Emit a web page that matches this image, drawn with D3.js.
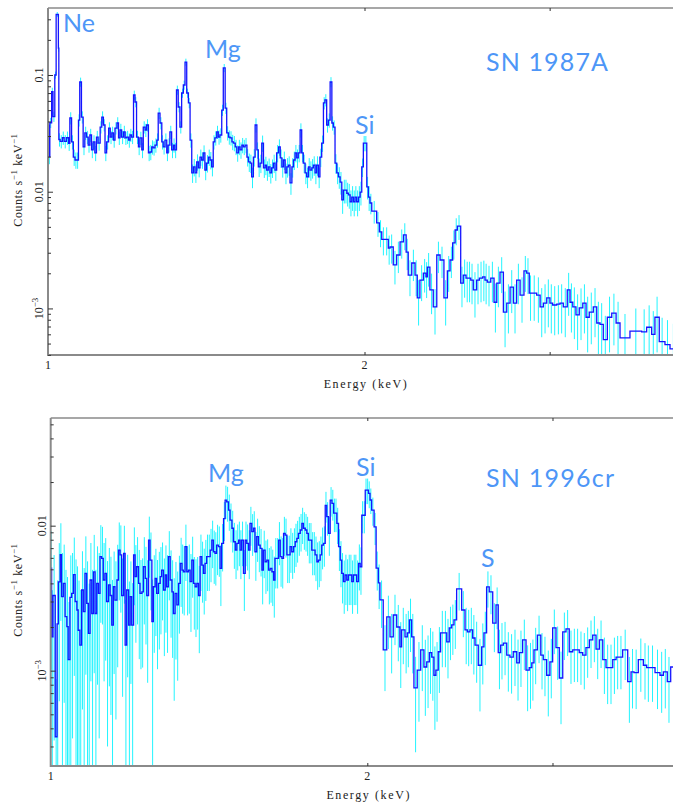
<!DOCTYPE html>
<html>
<head>
<meta charset="utf-8">
<script src="https://cdn.jsdelivr.net/npm/d3@7"></script>
<style>
  body { margin: 0; background: #fff; }
  svg { display: block; }
  .axis-text { font-family: "Liberation Serif", "DejaVu Serif", serif; fill: #222; }
  .line-label { font-family: "Lato", "Open Sans", sans-serif; fill: #4d96f7; font-size: 25px; }
</style>
</head>
<body>
<div id="vis"></div>
<script>
// ---------- SN 1987A : bin lower edges (keV, last value closes the last bin), counts s^-1 keV^-1, relative error
const energy87 = [
  1.000, 1.002, 1.004, 1.008, 1.011, 1.015, 1.018, 1.023, 1.024, 1.027, 1.032, 1.036, 1.041, 1.046,
  1.049, 1.053, 1.057, 1.061, 1.065, 1.069, 1.072, 1.076, 1.080, 1.084,
  1.088, 1.092, 1.096, 1.100, 1.104, 1.108, 1.112, 1.116, 1.121, 1.125,
  1.129, 1.133, 1.137, 1.142, 1.146, 1.150, 1.154, 1.158, 1.163, 1.167,
  1.171, 1.175, 1.180, 1.184, 1.188, 1.193, 1.197, 1.201, 1.206, 1.210,
  1.214, 1.219, 1.223, 1.228, 1.232, 1.237, 1.241, 1.246, 1.250, 1.255,
  1.259, 1.264, 1.269, 1.273, 1.278, 1.283, 1.287, 1.292, 1.297, 1.301,
  1.306, 1.311, 1.316, 1.320, 1.325, 1.330, 1.335, 1.340, 1.345, 1.350,
  1.355, 1.360, 1.365, 1.370, 1.375, 1.380, 1.385, 1.390, 1.395, 1.400,
  1.405, 1.410, 1.415, 1.421, 1.426, 1.431, 1.436, 1.441, 1.447, 1.452,
  1.457, 1.463, 1.468, 1.474, 1.479, 1.485, 1.490, 1.496, 1.501, 1.507,
  1.512, 1.518, 1.523, 1.529, 1.534, 1.540, 1.546, 1.551, 1.557, 1.562,
  1.568, 1.574, 1.580, 1.585, 1.591, 1.597, 1.603, 1.609, 1.614, 1.620,
  1.626, 1.632, 1.638, 1.644, 1.650, 1.657, 1.663, 1.669, 1.675, 1.681,
  1.687, 1.693, 1.699, 1.706, 1.712, 1.718, 1.724, 1.730, 1.737, 1.743,
  1.749, 1.756, 1.762, 1.769, 1.775, 1.782, 1.788, 1.795, 1.801, 1.808,
  1.814, 1.821, 1.828, 1.834, 1.841, 1.848, 1.855, 1.862, 1.868, 1.875,
  1.882, 1.889, 1.896, 1.903, 1.910, 1.917, 1.924, 1.931, 1.938, 1.945,
  1.952, 1.959, 1.966, 1.974, 1.981, 1.988, 1.995, 2.002, 2.010, 2.017,
  2.024, 2.032, 2.054, 2.066, 2.077, 2.092, 2.107, 2.115, 2.130, 2.146,
  2.162, 2.178, 2.191, 2.201, 2.218, 2.234, 2.245, 2.258, 2.275, 2.288,
  2.295, 2.308, 2.325, 2.343, 2.360, 2.380, 2.398, 2.412, 2.426, 2.439,
  2.451, 2.469, 2.483, 2.498, 2.511, 2.524, 2.538, 2.557, 2.572, 2.591,
  2.604, 2.617, 2.637, 2.656, 2.672, 2.691, 2.711, 2.731, 2.751, 2.771,
  2.791, 2.812, 2.836, 2.853, 2.869, 2.885, 2.916, 2.938, 2.959, 2.981,
  3.002, 3.020, 3.047, 3.069, 3.091, 3.118, 3.137, 3.156, 3.178, 3.201,
  3.226, 3.249, 3.272, 3.301, 3.326, 3.350, 3.374, 3.404, 3.437, 3.470,
  3.500, 3.577, 3.670, 3.710, 3.751, 3.778, 3.814, 3.862, 3.905, 3.963
];
const counts87 = [
  0.037, 0.020, 0.039, 0.072, 0.044, 0.100, 0.33, 0.17, 0.028, 0.027, 0.029, 0.027, 0.029, 0.026,
  0.0428, 0.0267, 0.0198, 0.0187, 0.0187, 0.0411, 0.0871, 0.0436, 0.0242, 0.0319,
  0.0294, 0.0251, 0.0306, 0.0228, 0.0267, 0.0215, 0.0294, 0.0261, 0.0358, 0.0436,
  0.0373, 0.0215, 0.0267, 0.0351, 0.0294, 0.0319, 0.0277, 0.0351, 0.0388, 0.0289,
  0.0338, 0.0294, 0.0325, 0.0289, 0.0294, 0.0277, 0.0306, 0.0294, 0.0674, 0.0587,
  0.0294, 0.0242, 0.0289, 0.0228, 0.0358, 0.0338, 0.0373, 0.0215, 0.0219, 0.0242,
  0.0237, 0.0251, 0.0277, 0.0472, 0.0388, 0.0267, 0.0242, 0.0277, 0.0215, 0.0251,
  0.0325, 0.0228, 0.0251, 0.0228, 0.0744, 0.0532, 0.0358, 0.0701, 0.0821, 0.129,
  0.0701, 0.0576, 0.0277, 0.0145, 0.0163, 0.0145, 0.0180, 0.0160, 0.0198, 0.0187,
  0.0215, 0.0153, 0.0176, 0.0198, 0.0187, 0.0163, 0.0267, 0.0289, 0.0325, 0.0294,
  0.0306, 0.0501, 0.115, 0.0521, 0.0319, 0.0294, 0.0289, 0.0267, 0.0261, 0.0242,
  0.0215, 0.0242, 0.0228, 0.0251, 0.0242, 0.0251, 0.0198, 0.0180, 0.0176, 0.0134,
  0.0198, 0.0373, 0.0228, 0.0163, 0.0176, 0.0261, 0.0160, 0.0169, 0.0153, 0.0163,
  0.0145, 0.0160, 0.0176, 0.0153, 0.0215, 0.0242, 0.0195, 0.0163, 0.0187, 0.0145,
  0.0163, 0.0169, 0.0119, 0.0163, 0.0187, 0.0215, 0.0195, 0.0215, 0.0338, 0.0215,
  0.0176, 0.0145, 0.0134, 0.0163, 0.0153, 0.0160, 0.0169, 0.0145, 0.0169, 0.0134,
  0.0198, 0.0261, 0.0576, 0.0611, 0.0373, 0.0411, 0.0871, 0.0388, 0.0358, 0.0176,
  0.0145, 0.0134, 0.0121, 0.0085, 0.0103, 0.0103, 0.0097, 0.0094, 0.0082, 0.0090,
  0.0082, 0.0090, 0.0082, 0.0090, 0.0099, 0.0163, 0.0261, 0.0261, 0.0110, 0.0090,
  0.0080, 0.00683, 0.0054, 0.00452, 0.0039, 0.0039, 0.00329, 0.00336, 0.00236, 0.00287,
  0.00371, 0.00426, 0.00304, 0.00193, 0.00245, 0.00193, 0.00123, 0.00175, 0.00201, 0.00186,
  0.00226, 0.00144, 0.00103, 0.00287, 0.0026, 0.00123, 0.0021, 0.0026, 0.00364, 0.0047,
  0.00508, 0.00165, 0.00193, 0.00182, 0.00182, 0.00175, 0.00144, 0.00175, 0.00182, 0.00186,
  0.00175, 0.00168, 0.00182, 0.00113, 0.00165, 0.00205, 0.00093, 0.00111, 0.00152, 0.00111,
  0.00175, 0.0013, 0.0021, 0.00201, 0.00135, 0.00135, 0.0013, 0.00103, 0.00111, 0.00123,
  0.00111, 0.00107, 0.00109, 0.00111, 0.00103, 0.00144, 0.00113, 0.00103, 0.00088, 0.00101,
  0.00111, 0.00084, 0.00093, 0.00103, 0.00075, 0.00073, 0.00054, 0.00084, 0.00091, 0.00075,
  0.00056, 0.00064, 0.00063, 0.00069, 0.0006, 0.00084, 0.00052, 0.00049, 0.00045
];
const err87 = [
  0.1, 0.14, 0.1, 0.08, 0.1, 0.07, 0.05, 0.07, 0.13, 0.13, 0.13, 0.13, 0.13, 0.14,
  0.12, 0.14, 0.16, 0.16, 0.16, 0.12, 0.09, 0.12, 0.15, 0.13,
  0.13, 0.14, 0.13, 0.15, 0.14, 0.15, 0.13, 0.14, 0.12, 0.12,
  0.12, 0.15, 0.14, 0.12, 0.13, 0.13, 0.14, 0.12, 0.12, 0.13,
  0.13, 0.13, 0.13, 0.13, 0.13, 0.14, 0.13, 0.13, 0.09, 0.1,
  0.13, 0.15, 0.13, 0.15, 0.12, 0.13, 0.12, 0.15, 0.15, 0.14,
  0.14, 0.14, 0.14, 0.11, 0.12, 0.14, 0.14, 0.14, 0.15, 0.14,
  0.13, 0.15, 0.14, 0.15, 0.09, 0.1, 0.12, 0.09, 0.09, 0.07,
  0.09, 0.1, 0.14, 0.18, 0.17, 0.18, 0.16, 0.17, 0.16, 0.16,
  0.16, 0.18, 0.17, 0.16, 0.17, 0.17, 0.14, 0.14, 0.13, 0.14,
  0.14, 0.11, 0.08, 0.11, 0.14, 0.14, 0.14, 0.15, 0.15, 0.15,
  0.16, 0.15, 0.16, 0.15, 0.15, 0.15, 0.17, 0.18, 0.18, 0.2,
  0.17, 0.14, 0.16, 0.18, 0.18, 0.16, 0.18, 0.18, 0.19, 0.18,
  0.19, 0.18, 0.18, 0.19, 0.17, 0.16, 0.18, 0.19, 0.18, 0.2,
  0.19, 0.19, 0.21, 0.19, 0.18, 0.17, 0.18, 0.17, 0.14, 0.17,
  0.18, 0.2, 0.2, 0.19, 0.19, 0.19, 0.19, 0.2, 0.19, 0.2,
  0.18, 0.16, 0.12, 0.12, 0.14, 0.14, 0.1, 0.14, 0.14, 0.19,
  0.2, 0.21, 0.22, 0.24, 0.23, 0.23, 0.23, 0.24, 0.25, 0.24,
  0.25, 0.24, 0.25, 0.24, 0.23, 0.18, 0.15, 0.15, 0.22, 0.24,
  0.2, 0.22, 0.24, 0.26, 0.27, 0.27, 0.28, 0.28, 0.32, 0.3,
  0.28, 0.26, 0.3, 0.34, 0.3, 0.34, 0.42, 0.34, 0.32, 0.34,
  0.32, 0.38, 0.42, 0.3, 0.3, 0.42, 0.34, 0.3, 0.28, 0.26,
  0.24, 0.38, 0.36, 0.38, 0.38, 0.38, 0.42, 0.38, 0.38, 0.38,
  0.38, 0.38, 0.38, 0.45, 0.38, 0.34, 0.5, 0.45, 0.4, 0.45,
  0.38, 0.42, 0.34, 0.34, 0.42, 0.42, 0.42, 0.45, 0.45, 0.44,
  0.45, 0.45, 0.45, 0.45, 0.45, 0.4, 0.45, 0.47, 0.5, 0.47,
  0.45, 0.5, 0.47, 0.45, 0.52, 0.52, 0.6, 0.5, 0.47, 0.52,
  0.6, 0.56, 0.56, 0.54, 0.58, 0.5, 0.6, 0.62, 0.64
];

// ---------- SN 1996cr
const energy96 = [
  1.000, 1.002, 1.005, 1.010, 1.014,
  1.017, 1.021, 1.024, 1.028, 1.032, 1.036, 1.039, 1.043, 1.047, 1.051,
  1.055, 1.059, 1.062, 1.066, 1.070, 1.074, 1.078, 1.082, 1.086, 1.090,
  1.094, 1.098, 1.102, 1.106, 1.110, 1.114, 1.118, 1.122, 1.126, 1.130,
  1.135, 1.139, 1.143, 1.147, 1.151, 1.156, 1.160, 1.164, 1.168, 1.173,
  1.177, 1.181, 1.186, 1.190, 1.194, 1.199, 1.203, 1.207, 1.212, 1.216,
  1.221, 1.225, 1.230, 1.234, 1.239, 1.243, 1.248, 1.252, 1.257, 1.261,
  1.266, 1.271, 1.275, 1.280, 1.285, 1.289, 1.294, 1.299, 1.304, 1.308,
  1.313, 1.318, 1.323, 1.328, 1.333, 1.337, 1.342, 1.347, 1.352, 1.357,
  1.362, 1.367, 1.372, 1.377, 1.382, 1.387, 1.392, 1.397, 1.402, 1.407,
  1.412, 1.418, 1.423, 1.428, 1.433, 1.438, 1.444, 1.449, 1.454, 1.460,
  1.465, 1.470, 1.476, 1.481, 1.487, 1.492, 1.498, 1.503, 1.509, 1.514,
  1.519, 1.525, 1.531, 1.536, 1.542, 1.547, 1.553, 1.559, 1.564, 1.570,
  1.576, 1.582, 1.588, 1.593, 1.599, 1.605, 1.611, 1.617, 1.623, 1.629,
  1.634, 1.640, 1.647, 1.653, 1.659, 1.665, 1.671, 1.677, 1.683, 1.689,
  1.695, 1.702, 1.708, 1.714, 1.720, 1.727, 1.733, 1.739, 1.746, 1.752,
  1.758, 1.765, 1.771, 1.778, 1.784, 1.791, 1.797, 1.804, 1.810, 1.817,
  1.824, 1.830, 1.837, 1.844, 1.851, 1.858, 1.864, 1.871, 1.878, 1.885,
  1.891, 1.898, 1.905, 1.912, 1.919, 1.926, 1.933, 1.940, 1.947, 1.954,
  1.962, 1.969, 1.976, 1.983, 1.991, 1.998, 2.005,
  2.012, 2.019, 2.030, 2.039, 2.049, 2.056, 2.071, 2.087, 2.102, 2.117,
  2.133, 2.148, 2.156, 2.172, 2.183, 2.193, 2.204, 2.215, 2.231, 2.248,
  2.264, 2.278, 2.291, 2.303, 2.314, 2.324, 2.336, 2.348, 2.366, 2.380,
  2.393, 2.406, 2.418, 2.432, 2.459, 2.477, 2.490, 2.504, 2.519, 2.532,
  2.550, 2.569, 2.582, 2.597, 2.612, 2.632, 2.651, 2.664, 2.678, 2.694,
  2.714, 2.733, 2.753, 2.774, 2.790, 2.810, 2.831, 2.851, 2.867, 2.881,
  2.902, 2.924, 2.940, 2.962, 2.983, 3.001, 3.023, 3.045, 3.068, 3.090,
  3.112, 3.136, 3.158, 3.181, 3.205, 3.228, 3.252, 3.276, 3.300, 3.324,
  3.349, 3.373, 3.397, 3.423, 3.448, 3.472, 3.498, 3.537, 3.563, 3.586,
  3.620, 3.660, 3.687, 3.714, 3.755, 3.796, 3.824, 3.857, 3.886, 3.937
];
const counts96 = [
  0.0051, 0.00171, 0.0033, 0.00035, 0.0021,
  0.0041, 0.0063, 0.00324, 0.0040, 0.00236, 0.00201, 0.00119, 0.0032, 0.00341, 0.0046,
  0.0030, 0.00262, 0.0019, 0.0015, 0.0036, 0.00255, 0.00469, 0.00291, 0.00181, 0.00422,
  0.00248, 0.0048, 0.00248, 0.0040, 0.00341, 0.00611, 0.00595, 0.00422, 0.00469, 0.0030,
  0.0039, 0.0033, 0.00206, 0.00379, 0.00307, 0.00422, 0.00679, 0.00628, 0.0033, 0.00644,
  0.0015, 0.0036, 0.00206, 0.00324, 0.00206, 0.00628, 0.00445, 0.00521, 0.0040, 0.00341,
  0.0035, 0.00521, 0.00433, 0.0033, 0.00796, 0.00579, 0.00218, 0.00379, 0.00433, 0.00341,
  0.0040, 0.00445, 0.00494, 0.0036, 0.00457, 0.00379, 0.00611, 0.00422, 0.0035, 0.00248,
  0.00341, 0.00284, 0.0040, 0.0055, 0.00494, 0.00481, 0.00716, 0.00481, 0.00494, 0.00411,
  0.00579, 0.0040, 0.00379, 0.0040, 0.0033, 0.00611, 0.00535, 0.00469, 0.0055, 0.00611,
  0.00611, 0.00679, 0.00796, 0.00661, 0.00644, 0.00735, 0.00716, 0.00507, 0.00755, 0.0112,
  0.015, 0.0146, 0.0128, 0.01094, 0.0096, 0.00775, 0.00679, 0.00755, 0.00796, 0.00679,
  0.00796, 0.00469, 0.00796, 0.00755, 0.00679, 0.01038, 0.0091, 0.0096, 0.00661, 0.0084,
  0.00735, 0.00697, 0.00494, 0.00679, 0.00564, 0.00579, 0.00494, 0.00507, 0.00481, 0.00422,
  0.00595, 0.00595, 0.00796, 0.00611, 0.00595, 0.00885, 0.0086, 0.00628, 0.00628, 0.00716,
  0.00661, 0.00716, 0.00775, 0.00818, 0.00885, 0.00934, 0.01038, 0.0096, 0.00934, 0.00885,
  0.00796, 0.00796, 0.00679, 0.00679, 0.00628, 0.00564, 0.00579, 0.00628, 0.00735, 0.00755,
  0.0138, 0.01153, 0.00885, 0.015, 0.01426, 0.0122, 0.0122, 0.01038, 0.00716, 0.00579,
  0.00469, 0.00411, 0.00457, 0.00422, 0.00457, 0.00457, 0.00411, 0.00457, 0.00457, 0.00411,
  0.0055, 0.00521, 0.0118, 0.0118, 0.0176, 0.0176, 0.0167,
  0.01504, 0.0128, 0.0098, 0.0051, 0.00403, 0.00308, 0.00139, 0.00235, 0.00171, 0.00242,
  0.0020, 0.00146, 0.00191, 0.00171, 0.00182, 0.00224, 0.00171, 0.00076, 0.00101, 0.00139,
  0.00106, 0.00115, 0.00133, 0.00124, 0.00093, 0.00101, 0.00135, 0.00182, 0.00182, 0.00158,
  0.00197, 0.00207, 0.00224, 0.00366, 0.00262, 0.00191, 0.00185, 0.00191, 0.00168, 0.0015,
  0.00109, 0.00146, 0.00182, 0.00378, 0.0035, 0.00213, 0.00284, 0.00133, 0.0015, 0.00155,
  0.00128, 0.00124, 0.00135, 0.00113, 0.00133, 0.00163, 0.00101, 0.00105, 0.00113, 0.00139,
  0.00176, 0.00128, 0.00119, 0.00093, 0.00115, 0.00197, 0.00144, 0.00089, 0.00185, 0.00194,
  0.00135, 0.00139, 0.00139, 0.00133, 0.00128, 0.00144, 0.00163, 0.00176, 0.00141, 0.00163,
  0.00119, 0.00105, 0.00105, 0.00119, 0.00124, 0.00124, 0.00139, 0.00084, 0.00098, 0.00097,
  0.00119, 0.00109, 0.00105, 0.00105, 0.00097, 0.00093, 0.00098, 0.00084, 0.00106
];
const err96 = [
  0.8, 1.1, 0.9, 1.5, 1.0,
  0.85, 0.65, 1.0, 0.85, 1.1, 1.2, 1.5, 0.95, 0.9, 0.8,
  0.95, 1.0, 1.2, 1.4, 0.85, 1.0, 0.8, 0.95, 1.2, 0.8,
  1.0, 0.8, 1.0, 0.8, 0.9, 0.65, 0.65, 0.8, 0.75, 0.9,
  0.8, 0.85, 1.05, 0.75, 0.85, 0.75, 0.55, 0.6, 0.8, 0.55,
  1.05, 0.75, 1.0, 0.75, 0.95, 0.55, 0.65, 0.6, 0.7, 0.7,
  0.7, 0.6, 0.65, 0.75, 0.45, 0.55, 0.95, 0.65, 0.6, 0.7,
  0.65, 0.6, 0.55, 0.65, 0.6, 0.65, 0.5, 0.6, 0.65, 0.75,
  0.65, 0.7, 0.55, 0.5, 0.5, 0.5, 0.42, 0.5, 0.5, 0.55,
  0.45, 0.52, 0.55, 0.52, 0.6, 0.42, 0.45, 0.48, 0.45, 0.42,
  0.42, 0.4, 0.36, 0.4, 0.4, 0.38, 0.38, 0.45, 0.36, 0.3,
  0.26, 0.27, 0.28, 0.3, 0.32, 0.35, 0.37, 0.35, 0.34, 0.37,
  0.34, 0.45, 0.34, 0.35, 0.37, 0.3, 0.32, 0.31, 0.37, 0.33,
  0.35, 0.36, 0.42, 0.36, 0.4, 0.39, 0.42, 0.42, 0.42, 0.45,
  0.38, 0.38, 0.33, 0.38, 0.38, 0.3, 0.3, 0.36, 0.36, 0.34,
  0.35, 0.34, 0.33, 0.32, 0.3, 0.29, 0.28, 0.29, 0.29, 0.3,
  0.31, 0.31, 0.33, 0.33, 0.34, 0.36, 0.35, 0.34, 0.32, 0.31,
  0.24, 0.26, 0.3, 0.23, 0.24, 0.26, 0.26, 0.28, 0.32, 0.35,
  0.38, 0.4, 0.38, 0.39, 0.38, 0.38, 0.4, 0.38, 0.38, 0.4,
  0.35, 0.36, 0.25, 0.25, 0.2, 0.2, 0.21,
  0.2, 0.22, 0.25, 0.3, 0.34, 0.36, 0.48, 0.4, 0.44, 0.38,
  0.42, 0.48, 0.42, 0.44, 0.42, 0.4, 0.44, 0.64, 0.56, 0.48,
  0.54, 0.52, 0.48, 0.5, 0.58, 0.56, 0.48, 0.42, 0.42, 0.44,
  0.4, 0.38, 0.37, 0.29, 0.35, 0.42, 0.42, 0.42, 0.44, 0.45,
  0.52, 0.45, 0.4, 0.28, 0.3, 0.37, 0.32, 0.44, 0.42, 0.4,
  0.44, 0.44, 0.42, 0.45, 0.42, 0.38, 0.48, 0.48, 0.45, 0.42,
  0.36, 0.42, 0.44, 0.48, 0.44, 0.34, 0.4, 0.52, 0.36, 0.35,
  0.4, 0.4, 0.4, 0.4, 0.42, 0.38, 0.36, 0.35, 0.38, 0.36,
  0.42, 0.44, 0.44, 0.42, 0.4, 0.4, 0.38, 0.48, 0.44, 0.44,
  0.4, 0.42, 0.42, 0.42, 0.44, 0.45, 0.44, 0.48, 0.42
];

// ---------- axes text
const xTickValues = [2, 3];
const xTickLabels = [1, 2];
const yLabels87 = [0.1, 0.01, 0.001];
const yLabels96 = [0.01, 0.001];
const lines87 = ["Ne", "Mg", "Si", "SN 1987A"];
const lines96 = ["Mg", "Si", "S", "SN 1996cr"];

const W = 673, H = 805;

const svg = d3.select("#vis").append("svg")
  .attr("width", W)
  .attr("height", H);

function drawPanel(p) {
  const x = d3.scaleLog().domain([1, 4]).range([p.left, p.left + 2 * p.octave]);
  const y = d3.scaleLog().domain(p.yDomain).range([p.bottom, p.top]);

  svg.append("clipPath").attr("id", "clip" + p.id)
    .append("rect")
      .attr("x", p.left).attr("y", p.top)
      .attr("width", W - p.left).attr("height", p.bottom - p.top);

  const bins = p.counts.map((c, i) => ({lo: p.energy[i], hi: p.energy[i + 1], c: c, r: p.err[i]}));
  const floor = p.yDomain[0] * 0.8;

  const plot = svg.append("g").attr("clip-path", "url(#clip" + p.id + ")");

  // error bars
  plot.selectAll("line.err")
    .data(bins)
    .enter()
    .append("line")
      .attr("class", "err")
      .attr("x1", (d) => x(Math.sqrt(d.lo * d.hi)))
      .attr("x2", (d) => x(Math.sqrt(d.lo * d.hi)))
      .attr("y1", (d) => y(d.c * (1 + d.r)))
      .attr("y2", (d) => y(Math.max(d.c * (1 - d.r), floor)))
      .attr("stroke", "#22f4ff")
      .attr("stroke-width", 1);

  // histogram
  const pts = bins.map((d) => [d.lo, d.c]);
  pts.push([bins[bins.length - 1].hi, bins[bins.length - 1].c]);
  plot.append("path")
    .datum(pts)
    .attr("d", d3.line().x((d) => x(d[0])).y((d) => y(d[1])).curve(d3.curveStepAfter))
    .attr("fill", "none")
    .attr("stroke", "#1414ff")
    .attr("stroke-width", 1.3);

  // frame
  svg.append("line")
    .attr("x1", p.left).attr("x2", W).attr("y1", p.top).attr("y2", p.top)
    .attr("stroke", "#8a8a8a").attr("stroke-width", 1.3);
  svg.append("line")
    .attr("x1", p.left).attr("x2", W).attr("y1", p.bottom).attr("y2", p.bottom)
    .attr("stroke", "#8a8a8a").attr("stroke-width", 2);
  svg.append("line")
    .attr("x1", p.left).attr("x2", p.left).attr("y1", p.top).attr("y2", p.bottom + 1)
    .attr("stroke", "#8a8a8a").attr("stroke-width", 2);

  // y ticks (inward)
  const isMajor = (t) => Math.abs(Math.log10(t) - Math.round(Math.log10(t))) < 1e-6;
  const yt = y.ticks();
  const minorAxis = svg.append("g").attr("transform", "translate(" + p.left + ",0)")
    .call(d3.axisRight(y).tickValues(yt.filter((t) => !isMajor(t))).tickSize(3).tickFormat(""));
  const majorAxis = svg.append("g").attr("transform", "translate(" + p.left + ",0)")
    .call(d3.axisRight(y).tickValues(yt.filter(isMajor)).tickSize(5).tickFormat(""));

  // x ticks on both edges
  const xBottom = svg.append("g").attr("transform", "translate(0," + p.bottom + ")")
    .call(d3.axisTop(x).tickValues(xTickValues).tickSize(3).tickFormat(""));
  const xTop = svg.append("g").attr("transform", "translate(0," + p.top + ")")
    .call(d3.axisBottom(x).tickValues(xTickValues).tickSize(3).tickFormat(""));

  [minorAxis, majorAxis, xBottom, xTop].forEach((g) => {
    g.select(".domain").remove();
    g.selectAll(".tick line").attr("stroke", "#333").attr("stroke-width", 1);
  });

  // x tick labels
  svg.selectAll(null)
    .data(xTickLabels)
    .enter()
    .append("text")
      .attr("class", "axis-text")
      .attr("x", (d) => x(d))
      .attr("y", p.bottom + 14)
      .attr("text-anchor", "middle")
      .attr("font-size", "12px")
      .text((d) => d);

  // y tick labels (rotated)
  p.yLabels.forEach((v) => {
    const t = svg.append("text")
      .attr("class", "axis-text")
      .attr("font-size", "12px")
      .attr("text-anchor", "middle")
      .attr("transform", "translate(" + (p.left - 5) + "," + y(v) + ") rotate(-90)");
    if (v < 0.005) {
      t.append("tspan").text("10");
      t.append("tspan").attr("dy", -5).attr("font-size", "9px").text("\u22123");
    } else {
      t.text(v);
    }
  });

  // axis titles
  svg.append("text")
    .attr("class", "axis-text")
    .attr("x", p.left + 318)
    .attr("y", p.bottom + 33)
    .attr("text-anchor", "middle")
    .attr("font-size", "12px")
    .attr("letter-spacing", "1.6px")
    .text("Energy (keV)");

  const yt2 = svg.append("text")
    .attr("class", "axis-text")
    .attr("font-size", "12px")
    .attr("letter-spacing", "0.6px")
    .attr("text-anchor", "middle")
    .attr("transform", "translate(22," + p.yTitleMid + ") rotate(-90)");
  yt2.append("tspan").text("Counts s");
  yt2.append("tspan").attr("dy", -5).attr("font-size", "9px").text("\u22121");
  yt2.append("tspan").attr("dy", 5).text(" keV");
  yt2.append("tspan").attr("dy", -5).attr("font-size", "9px").text("\u22121");

  // line labels
  const lab = svg.selectAll(null)
    .data(p.lines)
    .enter()
    .append("text")
      .attr("class", "line-label")
      .attr("x", (d, i) => p.labelPos[i][0])
      .attr("y", (d, i) => p.labelPos[i][1])
      .text((d) => d);
  lab.filter((d) => d.length > 3)
    .attr("textLength", (d, i) => p.labelPos[p.lines.indexOf(d)][2])
    .attr("lengthAdjust", "spacing");
}

drawPanel({
  id: "a",
  left: 48, octave: 316.5, top: 8, bottom: 355,
  yDomain: [3.99e-4, 0.375],
  energy: energy87, counts: counts87, err: err87,
  yLabels: yLabels87, yTitleMid: 180,
  lines: lines87,
  labelPos: [[63, 31.5, 36], [205, 58, 33], [355, 134, 18], [486, 70.5, 122]]
});

drawPanel({
  id: "b",
  left: 50.7, octave: 316.6, top: 418, bottom: 766,
  yDomain: [2.2e-4, 0.0553],
  energy: energy96, counts: counts96, err: err96,
  yLabels: yLabels96, yTitleMid: 590,
  lines: lines96,
  labelPos: [[208, 482, 35], [356, 476, 18], [481, 567, 12], [486, 487, 128]]
});
</script>
</body>
</html>
